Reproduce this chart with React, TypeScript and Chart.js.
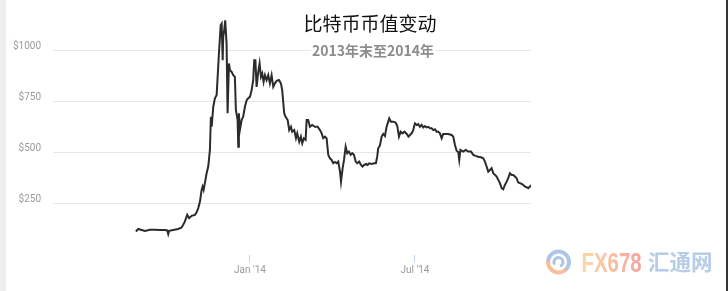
import React, { useEffect, useRef } from 'react';
import { Chart, registerables } from 'chart.js';

Chart.register(...registerables);

// days since 2014-01-01
const dayOffsets = [
  -125.1, -122.5, -118.8, -115.2, -109.7, -104.2, -98.7, -93.2, -90.7, -89.6,
  -88.5, -84.1, -78.7, -75.0, -73.2, -71.3, -68.8, -66.6, -64.0, -60.3,
  -58.5, -56.7, -54.8, -53.0, -51.9, -50.8, -49.4, -47.5, -45.7, -43.9,
  -42.8, -42.0, -40.2, -38.4, -36.5, -35.4, -34.0, -32.1, -31.0, -29.9,
  -29.3, -28.2, -27.1, -25.6, -24.5, -23.0, -21.9, -20.1, -18.3, -16.5,
  -15.4, -13.5, -12.8, -12.1, -11.0, -9.1, -7.4, -5.5, -3.6, -1.9,
  0, 1.9, 3.6, 4.7, 6.0, 7.3, 9.1, 10.6, 12.1, 13.5,
  15.0, 16.5, 18.3, 20.1, 21.9, 23.8, 25.6, 27.4, 29.3, 31.8,
  34.0, 35.4, 37.6, 39.1, 41.4, 43.1, 45.0, 46.4, 48.6, 50.5,
  51.9, 54.1, 55.9, 57.4, 59.2, 61.1, 62.2, 63.9, 65.8, 68.3,
  71.3, 74.3, 76.8, 78.7, 80.4, 82.3, 84.1, 85.9, 87.8, 89.6,
  91.4, 93.3, 95.1, 96.9, 98.8, 99.9, 101.7, 103.2, 105.0, 106.8,
  108.6, 110.5, 112.2, 114.1, 116.0, 117.7, 119.9, 121.8, 123.6, 125.4,
  127.3, 129.1, 130.9, 133.5, 136.4, 138.2, 139.6, 140.7, 142.6, 144.5,
  146.2, 148.1, 149.9, 151.7, 152.8, 154.7, 157.2, 159.8, 161.6, 163.5,
  165.3, 167.3, 169.5, 172.0, 173.9, 175.5, 177.4, 179.1, 181.0, 182.9,
  184.6, 186.5, 188.3, 190.1, 191.9, 193.8, 195.6, 197.5, 199.3, 201.1,
  202.9, 204.8, 206.6, 208.4, 210.3, 212.0, 214.7, 217.5, 221.2, 223.0,
  224.9, 226.7, 228.5, 229.6, 230.9, 234.0, 236.7, 239.5, 242.5, 245.0,
  247.6, 250.4, 253.4, 255.9, 257.8, 259.6, 261.4, 263.3, 265.1, 266.9,
  268.8, 270.6, 272.4, 274.2, 276.1, 277.8, 279.7, 281.6, 283.3, 285.2,
  287.1, 288.8, 290.7, 292.5, 294.3, 296.2, 298.0, 299.8, 301.7, 303.5,
  305.3, 307.2, 308.3,
];

// USD price
const prices = [
  115, 127, 122, 117, 123, 123, 122, 122, 120, 102,
  118, 122, 127, 134, 148, 164, 196, 180, 191, 196,
  208, 229, 261, 318, 334, 318, 351, 399, 432, 513,
  675, 626, 724, 765, 781, 870, 984, 1122, 1130, 951,
  1065, 1097, 1146, 1032, 692, 935, 903, 894, 878, 870,
  708, 659, 529, 692, 610, 659, 675, 724, 756, 765,
  772, 805, 854, 951, 951, 821, 893, 935, 870, 886,
  845, 878, 854, 878, 838, 878, 821, 838, 850, 854,
  838, 805, 692, 675, 659, 610, 626, 602, 610, 570,
  594, 553, 578, 545, 570, 562, 659, 659, 626, 635,
  626, 626, 610, 594, 570, 578, 570, 489, 472, 464,
  448, 454, 448, 456, 407, 358, 424, 464, 529, 497,
  505, 489, 497, 489, 456, 448, 456, 440, 432, 440,
  445, 440, 448, 445, 448, 448, 480, 521, 535, 578,
  591, 581, 626, 651, 667, 651, 651, 647, 630, 578,
  602, 594, 602, 591, 578, 586, 594, 610, 643, 635,
  639, 626, 635, 623, 630, 623, 626, 619, 619, 610,
  614, 602, 602, 594, 570, 591, 591, 591, 586, 578,
  537, 509, 503, 464, 513, 505, 513, 505, 505, 489,
  484, 480, 477, 472, 456, 432, 407, 415, 424, 399,
  391, 383, 367, 351, 326, 321, 342, 358, 375, 399,
  391, 391, 383, 375, 354, 351, 347, 342, 334, 331,
  326, 334, 342,
];

const yTickValues = [250, 500, 750, 1000];
const xTickDays = [0, 181];
const xTickLabels = ["Jan '14", "Jul '14"];
const xRange = [-216, 308.3];
const yRange = [0, 1245];
const titleText = '比特币币值变动';
const subtitleText = '2013年末至2014年';
const brandLatin = 'FX678';
const brandCJK = '汇通网';

const decorPlugin = {
  id: 'decor',
  beforeDraw(chart: any) {
    const { ctx, width, height } = chart;
    ctx.save();
    ctx.fillStyle = '#ffffff';
    ctx.fillRect(0, 0, width, height);
    ctx.fillStyle = '#eeeeee';
    ctx.fillRect(0, 0, 6, height);
    ctx.fillStyle = '#333333';
    ctx.fillRect(726, 0, 2, height);
    ctx.restore();
  },
  afterDraw(chart: any) {
    const { ctx } = chart;
    ctx.save();
    // title
    ctx.textAlign = 'center';
    ctx.textBaseline = 'middle';
    ctx.fillStyle = '#111111';
    ctx.font = '19px "Noto Sans CJK SC", sans-serif';
    ctx.fillText(titleText, 370, 24);
    // subtitle with white backing
    ctx.fillStyle = '#ffffff';
    ctx.fillRect(311, 42, 124, 17);
    ctx.fillStyle = '#8c8c8c';
    ctx.font = 'bold 14px "Noto Sans CJK SC", sans-serif';
    ctx.fillText(subtitleText, 373, 51);

    // watermark logo
    const cx = 558.5, cy = 262;
    ctx.lineWidth = 4;
    ctx.lineCap = 'round';
    ctx.strokeStyle = 'rgba(160,188,224,0.85)';
    ctx.beginPath();
    ctx.arc(cx, cy, 10.5, -Math.PI * 0.95, Math.PI * 0.25);
    ctx.stroke();
    ctx.strokeStyle = 'rgba(247,178,140,0.85)';
    ctx.beginPath();
    ctx.arc(cx, cy, 10.5, Math.PI * 0.3, Math.PI * 1.0);
    ctx.stroke();
    ctx.lineWidth = 3;
    ctx.strokeStyle = 'rgba(160,188,224,0.85)';
    ctx.beginPath();
    ctx.arc(cx, cy, 4.5, Math.PI * 0.9, Math.PI * 2.3);
    ctx.stroke();

    // FX678
    ctx.save();
    ctx.translate(581.5, 271.5);
    ctx.scale(0.755, 1);
    const g = ctx.createLinearGradient(0, 0, 80, 0);
    g.addColorStop(0, '#fcd9a6');
    g.addColorStop(1, '#f5a3a0');
    ctx.fillStyle = g;
    ctx.textAlign = 'left';
    ctx.textBaseline = 'alphabetic';
    ctx.font = 'bold 27px "Liberation Sans", Arial, sans-serif';
    ctx.fillText(brandLatin, 0, 0);
    ctx.restore();

    // 汇通网
    ctx.fillStyle = '#b6cce7';
    ctx.textAlign = 'left';
    ctx.textBaseline = 'middle';
    ctx.font = 'bold 21.5px "Noto Sans CJK SC", sans-serif';
    ctx.fillText(brandCJK, 648, 262);
    ctx.restore();
  },
};

export default function App() {
  const ref = useRef<HTMLCanvasElement | null>(null);

  useEffect(() => {
    document.body.style.margin = '0';
    const canvas = ref.current;
    if (!canvas) return;
    const points = dayOffsets.map((d, i) => ({ x: d, y: prices[i] }));
    const chart = new Chart(canvas, {
      type: 'line',
      data: {
        datasets: [
          {
            data: points,
            borderColor: '#2b2b2b',
            borderWidth: 2,
            pointRadius: 0,
            tension: 0,
            fill: false,
          },
        ],
      },
      options: {
        responsive: false,
        animation: false,
        devicePixelRatio: 1,
        layout: { padding: { left: 0, right: 197, top: 0, bottom: 0 } },
        plugins: {
          legend: { display: false },
          tooltip: { enabled: false },
          title: { display: false },
        },
        scales: {
          x: {
            type: 'linear',
            min: xRange[0],
            max: xRange[1],
            afterBuildTicks: (scale: any) => {
              scale.ticks = xTickDays.map((v) => ({ value: v }));
            },
            afterFit: (scale: any) => {
              scale.height = 36;
              scale.paddingLeft = 0;
              scale.paddingRight = 0;
            },
            grid: {
              drawOnChartArea: false,
              drawTicks: true,
              tickLength: 7,
              color: '#c6d5ea',
              lineWidth: 1,
            },
            border: { display: false },
            ticks: {
              autoSkip: false,
              maxRotation: 0,
              padding: 2,
              color: '#9a9a9a',
              font: { family: 'Roboto, sans-serif', size: 10 },
              callback: (v: any) => {
                const idx = xTickDays.indexOf(Number(v));
                return idx >= 0 ? xTickLabels[idx] : '';
              },
            },
          },
          y: {
            type: 'linear',
            min: yRange[0],
            max: yRange[1],
            afterBuildTicks: (scale: any) => {
              scale.ticks = yTickValues.map((v) => ({ value: v }));
            },
            afterFit: (scale: any) => {
              scale.width = 53;
              scale.paddingTop = 0;
              scale.paddingBottom = 0;
            },
            grid: {
              drawTicks: false,
              color: '#e6e6e6',
              lineWidth: 1,
            },
            border: { display: false },
            ticks: {
              padding: 12,
              labelOffset: -4,
              color: '#9a9a9a',
              font: { family: 'Roboto, sans-serif', size: 10 },
              callback: (v: any) => '$' + v,
            },
          },
        },
      },
      plugins: [decorPlugin],
    } as any);
    return () => chart.destroy();
  }, []);

  return (
    <div style={{ position: 'relative', width: 728, height: 291 }}>
      <canvas ref={ref} width={728} height={291} style={{ display: 'block' }} />
    </div>
  );
}
